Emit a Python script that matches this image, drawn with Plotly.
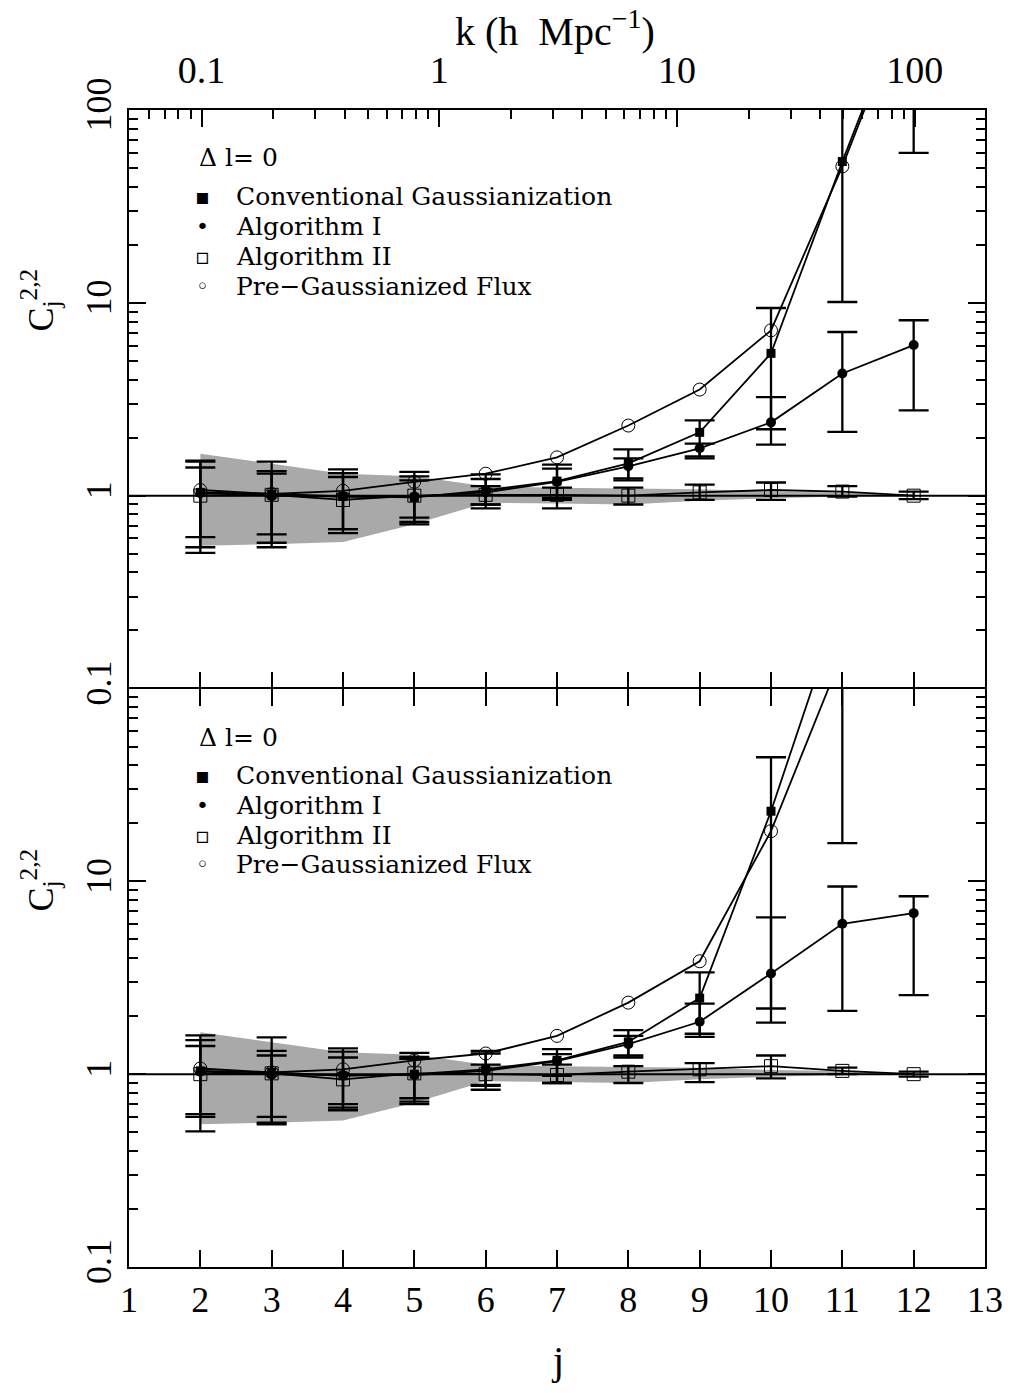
import plotly.graph_objects as go

# ---------------- data ----------------
j = [2, 3, 4, 5, 6, 7, 8, 9, 10, 11, 12]
j_ticks = [1, 2, 3, 4, 5, 6, 7, 8, 9, 10, 11, 12, 13]
k_ticks = [0.1, 1, 10, 100]
k_labels = ["0.1", "1", "10", "100"]
y_ticks_top = [0.1, 1, 10, 100]
y_ticks_bot = [0.1, 1, 10]
unity = 1.0

# Gaussian-field reference band (shaded)
band_hi = [1.65, 1.47, 1.30, 1.26, 1.12, 1.10, 1.09, 1.08, 1.05, 1.04, 1.01]
band_lo = [0.55, 0.56, 0.575, 0.71, 0.92, 0.91, 0.90, 0.94, 0.97, 0.99, 1.00]

# top panel
conv_top = [1.04, 1.02, 0.99, 0.98, 1.065, 1.19, 1.47, 2.13, 5.47, 54, 480]
conv_top_lo = [0.505, 0.54, 0.64, 0.71, 0.86, 0.97, 1.23, 1.56, 1.84, 10.1, 60]
conv_top_hi = [1.52, 1.50, 1.37, 1.33, 1.29, 1.45, 1.74, 2.46, 9.4, 400, 3000]
alg1_top = [1.03, 1.00, 0.99, 0.99, 1.04, 1.18, 1.42, 1.76, 2.40, 4.30, 6.04]
alg1_top_lo = [0.54, 0.57, 0.67, 0.73, 0.90, 0.95, 1.20, 1.60, 2.21, 2.14, 2.77]
alg1_top_hi = [1.50, 1.34, 1.31, 1.26, 1.22, 1.38, 1.56, 1.86, 3.24, 7.06, 8.12]
alg2_top = [1.00, 1.01, 0.95, 1.00, 1.01, 1.01, 1.00, 1.04, 1.07, 1.05, 1.00]
alg2_top_lo = [0.61, 0.63, 0.67, 0.77, 0.90, 0.86, 0.90, 0.95, 0.95, 0.99, 0.96]
alg2_top_hi = [1.40, 1.30, 1.25, 1.20, 1.12, 1.10, 1.10, 1.14, 1.17, 1.12, 1.05]
pre_top = [1.07, 1.02, 1.06, 1.18, 1.30, 1.58, 2.31, 3.55, 7.2, 51, 450]

# bottom panel
conv_bot = [1.04, 1.02, 0.98, 1.00, 1.06, 1.18, 1.47, 2.48, 23.1, 293, None]
conv_bot_lo = [0.505, 0.55, 0.65, 0.70, 0.83, 0.98, 1.22, 1.56, 1.85, 15.8, None]
conv_bot_hi = [1.59, 1.55, 1.36, 1.29, 1.32, 1.35, 1.69, 3.37, 44, 3000, None]
alg1_bot = [1.03, 1.00, 0.99, 0.99, 1.04, 1.17, 1.43, 1.87, 3.33, 6.02, 6.84]
alg1_bot_lo = [0.60, 0.56, 0.67, 0.72, 0.87, 0.90, 1.25, 1.62, 2.19, 2.13, 2.57]
alg1_bot_hi = [1.50, 1.32, 1.31, 1.23, 1.28, 1.27, 1.58, 2.32, 6.5, 9.4, 8.37]
alg2_bot = [1.00, 1.01, 0.94, 1.01, 1.00, 0.99, 1.03, 1.06, 1.10, 1.04, 1.00]
alg2_bot_lo = [0.62, 0.60, 0.70, 0.75, 0.88, 0.90, 0.90, 0.91, 0.95, 1.00, 0.97]
alg2_bot_hi = [1.40, 1.25, 1.22, 1.20, 1.12, 1.12, 1.10, 1.14, 1.25, 1.08, 1.03]
pre_bot = [1.07, 1.02, 1.06, 1.18, 1.28, 1.58, 2.35, 3.85, 18.2, 151, None]

legend_names = ["Conventional Gaussianization", "Algorithm I", "Algorithm II",
                "Pre\u2212Gaussianized Flux"]
legend_syms = ["\u25aa", "\u2022", "\u25ab", "\u25e6"]
panel_label = "\u0394 l= 0"

# ---------------- layout geometry ----------------
W, H = 1015, 1393
ML, MR, MT, MB = 129, 26, 110, 126
PW, PH = W - ML - MR, H - MT - MB


def px(xp):
    return (xp - ML) / PW


def py(yp):
    return (H - MB - yp) / PH


SERIF = "Liberation Serif"
LSERIF = "DejaVu Serif"


def err(val, lo, hi):
    plus, minus = [], []
    for v, l, h in zip(val, lo, hi):
        if v is None or l is None or h is None:
            plus.append(float("nan"))
            minus.append(float("nan"))
        else:
            plus.append(h - v)
            minus.append(v - l)
    return dict(type="data", symmetric=False, array=plus, arrayminus=minus,
                color="black", thickness=2.3, width=15)


fig = go.Figure()


def add_panel(xa, ya, conv, clo, chi, a1, a1lo, a1hi, a2, a2lo, a2hi, pre):
    common = dict(xaxis=xa, yaxis=ya, showlegend=False, hoverinfo="skip")
    fig.add_trace(go.Scatter(x=j + j[::-1], y=band_hi + band_lo[::-1], fill="toself",
                             fillcolor="#a9a9a9", line=dict(width=0), mode="lines", **common))
    fig.add_trace(go.Scatter(x=[j_ticks[0], j_ticks[-1]], y=[unity, unity], mode="lines",
                             line=dict(color="black", width=2), **common))
    fig.add_trace(go.Scatter(x=j, y=a2, mode="lines+markers",
                             line=dict(color="black", width=1.8),
                             marker=dict(symbol="square-open", size=13, color="black",
                                         line=dict(width=1, color="#222")),
                             error_y=err(a2, a2lo, a2hi), **common))
    fig.add_trace(go.Scatter(x=j, y=pre, mode="lines+markers",
                             line=dict(color="black", width=1.8),
                             marker=dict(symbol="circle-open", size=13, color="black",
                                         line=dict(width=1, color="black")),
                             **common))
    fig.add_trace(go.Scatter(x=j, y=conv, mode="lines+markers",
                             line=dict(color="black", width=1.8),
                             marker=dict(symbol="square", size=9, color="black"),
                             error_y=err(conv, clo, chi), **common))
    fig.add_trace(go.Scatter(x=j, y=a1, mode="lines+markers",
                             line=dict(color="black", width=1.8),
                             marker=dict(symbol="circle", size=10, color="black"),
                             error_y=err(a1, a1lo, a1hi), **common))


add_panel("x", "y", conv_top, conv_top_lo, conv_top_hi, alg1_top, alg1_top_lo, alg1_top_hi,
          alg2_top, alg2_top_lo, alg2_top_hi, pre_top)
add_panel("x2", "y2", conv_bot, conv_bot_lo, conv_bot_hi, alg1_bot, alg1_bot_lo, alg1_bot_hi,
          alg2_bot, alg2_bot_lo, alg2_bot_hi, pre_bot)

# helper trace to activate the k axis
fig.add_trace(go.Scatter(x=[k_ticks[1]], y=[unity], xaxis="x3", yaxis="y", mode="markers",
                         marker=dict(opacity=0), showlegend=False, hoverinfo="skip"))

minor_log = [m * 10 ** e for e in range(-2, 3) for m in range(2, 10)]

yax_common = dict(type="log", range=[-1, 2], ticks="inside", ticklen=17, tickwidth=2,
                  tickcolor="black", showline=True, linewidth=2, linecolor="black",
                  mirror="ticks", showgrid=False, zeroline=False, tickangle=-90,
                  tickfont=dict(family=SERIF, size=36, color="black"),
                  minor=dict(ticks="inside", ticklen=9, tickwidth=1.6, tickcolor="black",
                             tickmode="array", tickvals=minor_log, showgrid=False),
                  tickmode="array", ticklabelstandoff=2)

xax_common = dict(range=[1, 13], tickmode="array", tickvals=j_ticks, ticks="inside",
                  ticklen=17, tickwidth=2, tickcolor="black", linewidth=2,
                  linecolor="black", showgrid=False, zeroline=False,
                  tickfont=dict(family=SERIF, size=36, color="black"))

fig.update_layout(
    width=W, height=H,
    margin=dict(l=ML, r=MR, t=MT, b=MB),
    paper_bgcolor="white", plot_bgcolor="white",
    xaxis=dict(**xax_common, anchor="y", showticklabels=False, mirror=False, showline=False),
    xaxis2=dict(**xax_common, anchor="y2", mirror="ticks", showline=True, ticklabelstandoff=0),
    xaxis3=dict(type="log", range=[-1.305, 2.295], overlaying="x", side="top", anchor="y",
                tickmode="array", tickvals=k_ticks, ticktext=k_labels, ticks="inside",
                ticklen=17, tickwidth=2, tickcolor="black", showline=True, linewidth=2,
                linecolor="black", showgrid=False, zeroline=False, ticklabelstandoff=10,
                tickfont=dict(family=SERIF, size=38, color="black"),
                minor=dict(ticks="inside", ticklen=9, tickwidth=1.6, tickcolor="black",
                           tickmode="array", tickvals=minor_log, showgrid=False)),
    yaxis=dict(**yax_common, domain=[0.5, 1], anchor="x", tickvals=y_ticks_top,
               ticktext=["0.1", "1", "10", "100"]),
    yaxis2=dict(**yax_common, domain=[0, 0.5], anchor="x2", tickvals=y_ticks_bot,
                ticktext=["0.1", "1", "10"]),
)

ann = []
# axis titles
ann.append(dict(x=px(557), y=py(28), xref="paper", yref="paper", showarrow=False,
                xanchor="center", yanchor="middle",
                text="k (h  Mpc<sup>\u22121</sup>)",
                font=dict(family=SERIF, size=40, color="black")))
ann.append(dict(x=px(560), y=py(1360), xref="paper", yref="paper", showarrow=False,
                xanchor="center", yanchor="middle",
                text="j", font=dict(family=SERIF, size=40, color="black")))
for yc in (300, 880):
    ann.append(dict(x=px(40), y=py(yc), xref="paper", yref="paper", showarrow=False,
                    xanchor="center", yanchor="middle",
                    textangle=-90, text="C<sub>j</sub><sup>2,2</sup>",
                    font=dict(family=SERIF, size=36, color="black")))

# in-panel legends
for y0 in (158, 737):
    ann.append(dict(x=px(198), y=py(y0), xref="paper", yref="paper", showarrow=False,
                    xanchor="left", yanchor="middle", text=panel_label,
                    font=dict(family=LSERIF, size=25, color="black"), borderpad=0))
    rows = [y0 + 38, y0 + 68, y0 + 98, y0 + 128]
    for name, sym, yr in zip(legend_names, legend_syms, rows):
        ann.append(dict(x=px(203), y=py(yr), xref="paper", yref="paper", showarrow=False,
                        xanchor="center", yanchor="middle", text=sym, borderpad=0,
                        font=dict(family="DejaVu Sans", size=22, color="black")))
        ann.append(dict(x=px(235), y=py(yr), xref="paper", yref="paper", showarrow=False,
                        xanchor="left", yanchor="middle", text=name, borderpad=0,
                        font=dict(family=LSERIF, size=25, color="black")))

fig.update_layout(annotations=ann)

fig.write_html("out.html")
